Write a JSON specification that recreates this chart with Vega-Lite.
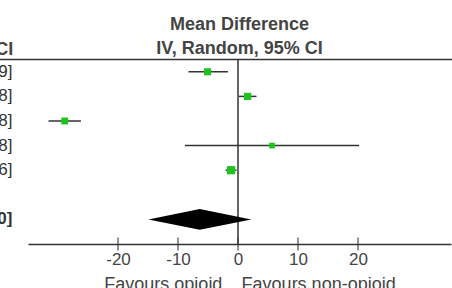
{
  "$schema": "https://vega.github.io/schema/vega-lite/v6.json",
  "width": 423,
  "height": 184.5,
  "autosize": {"type": "none"},
  "padding": {"left": 28, "top": 59.5, "right": 1, "bottom": 44},
  "background": "white",
  "config": {"view": {"stroke": null}, "font": "Liberation Sans"},
  "title": {
    "text": ["Mean Difference", "IV, Random, 95% CI"],
    "fontSize": 18,
    "fontWeight": "bold",
    "color": "#444444",
    "lineHeight": 24.5,
    "anchor": "middle",
    "frame": "group",
    "offset": -17
  },
  "datasets": {
    "studies": [
      {"row": 1, "md": -5.07, "lo": -8.25, "hi": -1.69, "weight": 20, "label": "-5.07 [-8.25, -1.69]"},
      {"row": 2, "md": 1.6, "lo": 0.12, "hi": 3.08, "weight": 21, "label": "1.60 [0.12, 3.08]"},
      {"row": 3, "md": -28.88, "lo": -31.58, "hi": -26.18, "weight": 19, "label": "-28.88 [-31.58, -26.18]"},
      {"row": 4, "md": 5.67, "lo": -8.84, "hi": 20.18, "weight": 13, "label": "5.67 [-8.84, 20.18]"},
      {"row": 5, "md": -1.16, "lo": -2.06, "hi": -0.26, "weight": 27, "label": "-1.16 [-2.06, -0.26]"}
    ],
    "pooled": [
      {"x": -14.94, "top": 7, "bottom": 7},
      {"x": -6.37, "top": 6.58, "bottom": 7.42},
      {"x": 2.2, "top": 7, "bottom": 7}
    ],
    "pooledLabel": [{"row": 7, "label": "-6.37 [-14.94, 2.20]"}],
    "ticks": [{"v": -20}, {"v": -10}, {"v": 0}, {"v": 10}, {"v": 20}]
  },
  "layer": [
    {
      "data": {"values": [{}]},
      "mark": {"type": "rule", "color": "#333333", "strokeWidth": 1.5},
      "encoding": {
        "y": {"datum": 0.5, "type": "quantitative", "scale": {"domain": [0.5, 8], "reverse": true, "nice": false, "zero": false}, "axis": null},
        "x": {"datum": -45, "type": "quantitative", "scale": {"domain": [-35, 35.5], "nice": false, "zero": false}},
        "x2": {"datum": 45}
      }
    },
    {
      "data": {"values": [{}]},
      "mark": {"type": "rule", "color": "#333333", "strokeWidth": 1.5},
      "encoding": {
        "x": {"datum": 0, "type": "quantitative"},
        "y": {"datum": 0.5, "type": "quantitative"},
        "y2": {"datum": 8}
      }
    },
    {
      "data": {"name": "ticks"},
      "mark": {"type": "tick", "orient": "vertical", "color": "#333333", "thickness": 1.5, "size": 13},
      "encoding": {
        "x": {"field": "v", "type": "quantitative",
          "axis": {"values": [-20, -10, 0, 10, 20], "labelExpr": "datum.value < 0 ? '-' + abs(datum.value) : '' + datum.value", "ticks": false, "grid": false, "domainColor": "#333333", "domainWidth": 1.5, "labelFontSize": 17, "labelColor": "#444444", "labelPadding": 7, "title": null, "labelFlush": false}},
        "y": {"datum": 8, "type": "quantitative"}
      }
    },
    {
      "data": {"name": "studies"},
      "mark": {"type": "rule", "color": "#333333", "strokeWidth": 1.5},
      "encoding": {
        "x": {"field": "lo", "type": "quantitative"},
        "x2": {"field": "hi"},
        "y": {"field": "row", "type": "quantitative"}
      }
    },
    {
      "data": {"name": "studies"},
      "mark": {"type": "point", "shape": "square", "filled": true, "color": "#1ec41e", "opacity": 1},
      "encoding": {
        "x": {"field": "md", "type": "quantitative"},
        "y": {"field": "row", "type": "quantitative"},
        "size": {"field": "weight", "type": "quantitative", "scale": {"domain": [0, 40], "range": [0, 100]}, "legend": null}
      }
    },
    {
      "data": {"name": "pooled"},
      "mark": {"type": "area", "orient": "vertical", "color": "black", "opacity": 1},
      "encoding": {
        "x": {"field": "x", "type": "quantitative"},
        "y": {"field": "top", "type": "quantitative"},
        "y2": {"field": "bottom"}
      }
    },
    {
      "data": {"name": "studies"},
      "mark": {"type": "text", "align": "right", "baseline": "middle", "fontSize": 17, "color": "#333333"},
      "encoding": {
        "x": {"datum": -37.6, "type": "quantitative"},
        "y": {"field": "row", "type": "quantitative"},
        "text": {"field": "label"}
      }
    },
    {
      "data": {"name": "pooledLabel"},
      "mark": {"type": "text", "align": "right", "baseline": "middle", "fontSize": 17, "fontWeight": "bold", "color": "#333333"},
      "encoding": {
        "x": {"datum": -37.6, "type": "quantitative"},
        "y": {"field": "row", "type": "quantitative"},
        "text": {"field": "label"}
      }
    },
    {
      "data": {"values": [{"t": "95% CI"}]},
      "mark": {"type": "text", "align": "right", "baseline": "alphabetic", "fontSize": 18, "fontWeight": "bold", "color": "#444444"},
      "encoding": {
        "x": {"datum": -37.45, "type": "quantitative"},
        "y": {"datum": 0.32, "type": "quantitative"},
        "text": {"field": "t"}
      }
    },
    {
      "data": {"values": [{"t": "Favours opioid"}]},
      "mark": {"type": "text", "align": "right", "baseline": "alphabetic", "fontSize": 18, "color": "#444444"},
      "encoding": {
        "x": {"datum": -2.6, "type": "quantitative"},
        "y": {"datum": 9.86, "type": "quantitative"},
        "text": {"field": "t"}
      }
    },
    {
      "data": {"values": [{"t": "Favours non-opioid"}]},
      "mark": {"type": "text", "align": "left", "baseline": "alphabetic", "fontSize": 18, "color": "#444444"},
      "encoding": {
        "x": {"datum": 0.6, "type": "quantitative"},
        "y": {"datum": 9.86, "type": "quantitative"},
        "text": {"field": "t"}
      }
    }
  ]
}
